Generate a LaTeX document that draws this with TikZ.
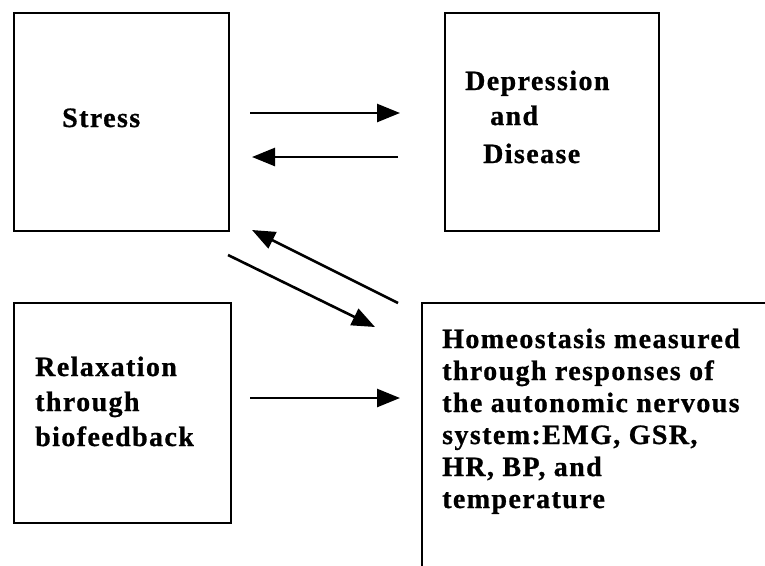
\documentclass[tikz,border=0pt]{standalone}
\usepackage{fontspec}
\setmainfont{Liberation Serif}[LetterSpace=5,BoldFeatures={FakeBold=0.8}]
\usetikzlibrary{arrows.meta}
\begin{document}
\begin{tikzpicture}[x=1pt,y=-1pt,
  box/.style={draw,line width=2pt,inner sep=0pt,anchor=north west},
  lbl/.style={anchor=base west,inner sep=0pt,font=\bfseries\fontsize{28}{35}\selectfont},
  arr/.style={line width=2.6pt,-{Triangle[length=23pt,width=18pt]}}]
  \useasboundingbox (0,0) rectangle (765,565);

  % boxes
  \node[box,minimum width=215pt,minimum height=218pt] (stressbox) at (13,12) {};
  \node[box,minimum width=214pt,minimum height=218pt] (depbox) at (444,12) {};
  \node[box,minimum width=217pt,minimum height=220pt] (relbox) at (13,302) {};
  \coordinate (homtr) at (766,303);
  \coordinate (homtl) at (422,303);
  \coordinate (hombl) at (422,566);
  \draw[line width=2pt] (homtr) -- (homtl) -- (hombl);

  % labels
  \node[lbl] (stress) at (62,127) {Stress};
  \node[lbl] (dep1) at (465,90) {Depression};
  \node[lbl] (dep2) at (490,125) {and};
  \node[lbl] (dep3) at (483,163) {Disease};
  \node[lbl] (rel) at (35,376) {\begin{tabular}[t]{@{}l@{}}Relaxation\\through\\biofeedback\end{tabular}};
  \node[lbl,font=\bfseries\fontsize{28}{32}\selectfont] (hom) at (442,348)
    {\begin{tabular}[t]{@{}l@{}}Homeostasis measured\\through responses of\\the autonomic nervous\\system:EMG, GSR,\\HR, BP, and\\temperature\end{tabular}};

  % connectors
  \coordinate (a1s) at (250,113); \coordinate (a1e) at (400,113);
  \coordinate (a2s) at (398,157); \coordinate (a2e) at (252,157);
  \coordinate (a3s) at (398,303); \coordinate (a3e) at (252,230);
  \coordinate (a4s) at (228,255); \coordinate (a4e) at (375,327);
  \coordinate (a5s) at (250,398); \coordinate (a5e) at (400,398);
  \draw[arr] (a1s) -- (a1e);
  \draw[arr] (a2s) -- (a2e);
  \draw[arr] (a3s) -- (a3e);
  \draw[arr] (a4s) -- (a4e);
  \draw[arr] (a5s) -- (a5e);
\end{tikzpicture}
\end{document}
